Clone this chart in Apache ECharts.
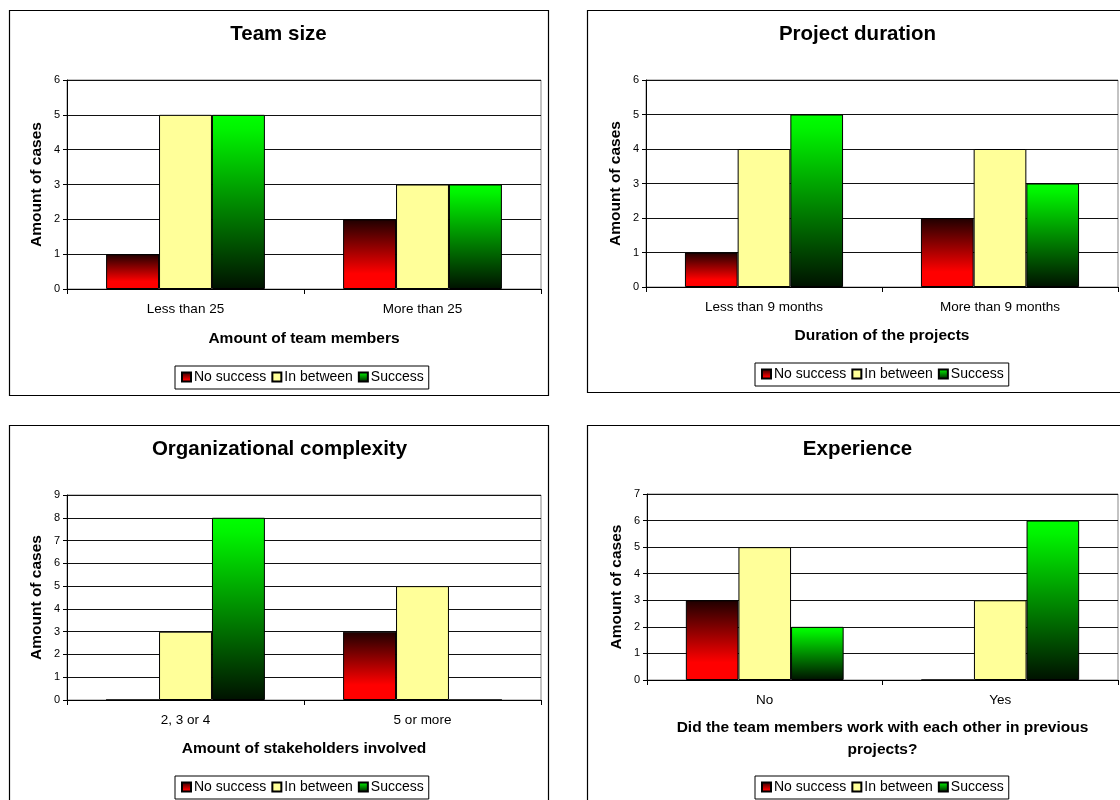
<!DOCTYPE html>
<html>
<head>
<meta charset="utf-8">
<script src="https://cdn.jsdelivr.net/npm/echarts@6/dist/echarts.min.js"></script>
<style>
html,body{margin:0;padding:0;background:#fff;overflow:hidden;}
#c{width:1120px;height:800px;}
</style>
</head>
<body>
<div id="c"></div>
<script>
// ---- data ----
const seriesNames = ['No success', 'In between', 'Success'];

const titles = ['Team size', 'Project duration', 'Organizational complexity', 'Experience'];
const xTitles = ['Amount of team members', 'Duration of the projects', 'Amount of stakeholders involved',
  'Did the team members work with each other in previous\nprojects?'];
const yTitle = 'Amount of cases';

const categories1 = ['Less than 25', 'More than 25'];
const categories2 = ['Less than 9 months', 'More than 9 months'];
const categories3 = ['2, 3 or 4', '5 or more'];
const categories4 = ['No', 'Yes'];

const noSuccess1 = [1, 2];
const inBetween1 = [5, 3];
const success1 = [5, 3];

const noSuccess2 = [1, 2];
const inBetween2 = [4, 4];
const success2 = [5, 3];

const noSuccess3 = [0, 3];
const inBetween3 = [3, 5];
const success3 = [8, 0];

const noSuccess4 = [3, 0];
const inBetween4 = [5, 3];
const success4 = [2, 6];

const yMax = [6, 6, 9, 7];

// ---- layout ----
const FONT = '"Liberation Sans", Arial, sans-serif';
const grids = [
  {left: 67, top: 80, width: 474, height: 209},
  {left: 646, top: 80, width: 472, height: 207},
  {left: 67, top: 495, width: 474, height: 205},
  {left: 647, top: 494, width: 471, height: 186}
];
const titleCenters = [[278.5, 24], [857.5, 24], [279.5, 439], [857.5, 439]];
const legendPos = [[175, 366], [755, 363], [175, 776], [755, 776]];
const nameGaps = [39, 38, 38, 37];
const panels = [[9.5, 10.5, 539, 385], [587.5, 10.5, 560, 382], [9.5, 425.5, 539, 420], [587.5, 425.5, 560, 420]];

const cats = [categories1, categories2, categories3, categories4];
const data = [
  [noSuccess1, inBetween1, success1],
  [noSuccess2, inBetween2, success2],
  [noSuccess3, inBetween3, success3],
  [noSuccess4, inBetween4, success4]
];

const redGrad = new echarts.graphic.LinearGradient(0, 0, 0, 1, [
  {offset: 0, color: '#1e0000'}, {offset: 0.78, color: '#ff0000'}, {offset: 1, color: '#ff0000'}
]);
const greenGrad = new echarts.graphic.LinearGradient(0, 0, 0, 1, [
  {offset: 0, color: '#00ff00'}, {offset: 0.08, color: '#00f400'}, {offset: 1, color: '#001200'}
]);
const fills = [redGrad, '#ffff99', greenGrad];

const option = {
  backgroundColor: '#fff',
  animation: false,
  textStyle: {fontFamily: FONT, color: '#000'},
  graphic: panels.map(p => ({
    type: 'rect', shape: {x: p[0], y: p[1], width: p[2], height: p[3]},
    style: {fill: 'none', stroke: '#000', lineWidth: 1.2}, z: 100
  })),
  title: titles.map((t, i) => ({
    text: t, left: titleCenters[i][0], top: titleCenters[i][1], textAlign: 'center', padding: 0,
    textStyle: {fontFamily: FONT, fontSize: 20.5, fontWeight: 'bold', color: '#000'}
  })),
  legend: legendPos.map((p, i) => ({
    data: seriesNames, left: p[0], top: p[1], orient: 'horizontal',
    itemWidth: 9, itemHeight: 9, itemGap: 5, padding: [4, 5, 5, 6],
    borderColor: '#000', borderWidth: 1, icon: 'rect',
    textStyle: {fontFamily: FONT, fontSize: 14, color: '#000', padding: [0, 0, 0, -2]},
    selectedMode: false
  })),
  grid: grids.map(g => Object.assign({show: true, borderColor: '#888', borderWidth: 1, backgroundColor: '#fff'}, g)),
  xAxis: cats.map((c, i) => ({
    type: 'category', gridIndex: i, data: c,
    axisLine: {lineStyle: {color: '#000', width: 1}},
    axisTick: {show: true, length: 5, lineStyle: {color: '#000'}},
    axisLabel: {fontFamily: FONT, fontSize: 13.5, color: '#000', margin: 13},
    name: xTitles[i], nameLocation: 'middle', nameGap: nameGaps[i],
    nameTextStyle: {fontFamily: FONT, fontSize: 15.5, fontWeight: 'bold', color: '#000', lineHeight: 22}
  })),
  yAxis: yMax.map((m, i) => ({
    type: 'value', gridIndex: i, min: 0, max: m, interval: 1,
    axisLine: {show: true, lineStyle: {color: '#000', width: 1}},
    axisTick: {show: true, length: 4, lineStyle: {color: '#000'}},
    axisLabel: {fontFamily: FONT, fontSize: 11, color: '#000', margin: 7},
    splitLine: {show: true, lineStyle: {color: '#111', width: 1}},
    name: yTitle, nameLocation: 'middle', nameRotate: 90, nameGap: 22,
    nameTextStyle: {fontFamily: FONT, fontSize: 15.5, fontWeight: 'bold', color: '#000'}
  })),
  series: []
};

for (let i = 0; i < 4; i++) {
  for (let s = 0; s < 3; s++) {
    option.series.push({
      type: 'bar', name: seriesNames[s], xAxisIndex: i, yAxisIndex: i,
      data: data[i][s], barGap: '0%', barCategoryGap: '33%',
      itemStyle: {color: fills[s], borderColor: '#000', borderWidth: 1}
    });
  }
}

const chart = echarts.init(document.getElementById('c'), null, {renderer: 'canvas'});
chart.setOption(option);
</script>
</body>
</html>
